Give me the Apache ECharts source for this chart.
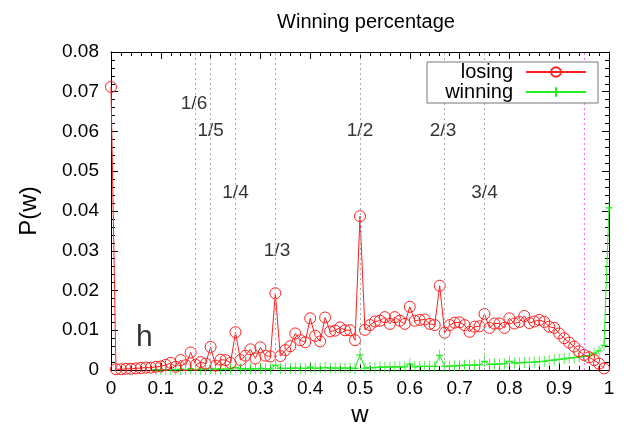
<!DOCTYPE html>
<html><head><meta charset="utf-8">
<script src="https://cdn.jsdelivr.net/npm/echarts@6/dist/echarts.min.js"></script>
<style>html,body{margin:0;padding:0;background:#fff}#c{width:637px;height:434px}</style>
</head><body><div id="c"></div>
<script>
// bin positions w = 0.00 ... 1.00
const wBins = Array.from({length: 101}, (_, i) => i / 100);
const losing = [
0.0712,0.0002,0.0002,0.0003,0.0003,0.0004,0.0005,0.0006,0.0006,0.0008,
0.0009,0.0013,0.0018,0.0008,0.0025,0.0012,0.0044,0.0013,0.0020,0.0016,
0.0058,0.0011,0.0026,0.0025,0.0018,0.0095,0.0025,0.0036,0.0052,0.0029,
0.0057,0.0036,0.0034,0.0193,0.0035,0.0050,0.0060,0.0092,0.0075,0.0070,
0.0130,0.0086,0.0072,0.0132,0.0097,0.0099,0.0107,0.0100,0.0100,0.0075,
0.0387,0.0101,0.0113,0.0122,0.0124,0.0133,0.0116,0.0133,0.0124,0.0116,
0.0159,0.0124,0.0126,0.0127,0.0116,0.0113,0.0212,0.0094,0.0113,0.0119,
0.0120,0.0113,0.0096,0.0109,0.0110,0.0141,0.0106,0.0117,0.0117,0.0106,
0.0130,0.0117,0.0121,0.0136,0.0118,0.0122,0.0126,0.0121,0.0109,0.0106,
0.0092,0.0080,0.0069,0.0059,0.0047,0.0038,0.0032,0.0025,0.0016,0.0004,
null];
const winning = [
null,null,null,null,null,null,null,null,null,0.0001,
0.0001,0.0001,0.0001,0.0001,0.0002,0.0001,0.0003,0.0001,0.0002,0.0002,
0.0004,0.0002,0.0002,0.0002,0.0002,0.0006,0.0003,0.0003,0.0003,0.0003,
0.0004,0.0003,0.0003,0.0012,0.0004,0.0004,0.0004,0.0005,0.0004,0.0004,
0.0007,0.0004,0.0005,0.0006,0.0005,0.0005,0.0005,0.0005,0.0005,0.0004,
0.0038,0.0005,0.0006,0.0006,0.0007,0.0007,0.0007,0.0008,0.0008,0.0008,
0.0015,0.0008,0.0009,0.0009,0.0009,0.0009,0.0037,0.0009,0.0010,0.0010,
0.0011,0.0012,0.0012,0.0012,0.0013,0.0022,0.0014,0.0015,0.0015,0.0016,
0.0022,0.0017,0.0018,0.0019,0.0019,0.0020,0.0021,0.0022,0.0024,0.0025,
0.0027,0.0028,0.0030,0.0031,0.0033,0.0034,0.0036,0.0042,0.0048,0.0062,
0.0408];
// fraction annotations
const fracLabels = ['1/6','1/5','1/4','1/3','1/2','2/3','3/4'];
const fracValues = [1/6, 1/5, 1/4, 1/3, 1/2, 2/3, 3/4];
const fracLabelY = [0.0669, 0.0601, 0.0445, 0.0300, 0.0601, 0.0601, 0.0445];
const magentaLine = 0.952;

const FONT = 'Liberation Sans';
const chart = echarts.init(document.getElementById('c'));
const pairs = arr => wBins.map((w, i) => [w, arr[i]]);

function mkAxis(extra) {
  return Object.assign({
    axisLine: {show: true, onZero: false, lineStyle: {color: '#000', width: 1}},
    axisTick: {show: true, inside: true, length: 7, lineStyle: {color: '#000', width: 1}},
    minorTick: {show: true, splitNumber: 5, length: 4, lineStyle: {color: '#000', width: 1}},
    splitLine: {show: false}
  }, extra);
}
const plus = 'path://M0,-5 L0,5 M-3,0 L3,0';

chart.setOption({
  animation: false,
  backgroundColor: '#fff',
  title: {
    text: 'Winning percentage', left: 361, top: 7, textAlign: 'center',
    textStyle: {fontFamily: FONT, fontSize: 20, fontWeight: 'normal', color: '#000'}
  },
  grid: {left: 111, right: 28, top: 52, bottom: 64},
  legend: {
    data: ['losing', 'winning'], orient: 'vertical', align: 'right',
    left: 427, top: 62, itemWidth: 60, itemHeight: 12, itemGap: 0,
    padding: [0, 11, 1, 4],
    borderColor: '#777', borderWidth: 1, backgroundColor: '#fff',
    textStyle: {fontFamily: FONT, fontSize: 20, lineHeight: 20, color: '#000',
      width: 82, align: 'right', padding: [0, 8, 0, 0]},
    z: 10
  },
  xAxis: [
    mkAxis({type: 'value', min: 0, max: 1, interval: 0.1, position: 'bottom',
      name: 'w', nameLocation: 'middle', nameGap: 28,
      nameTextStyle: {fontFamily: FONT, fontSize: 24, color: '#000'},
      axisLabel: {fontFamily: FONT, fontSize: 19, color: '#000', margin: 9,
        formatter: v => (v === 0 ? '0' : v === 1 ? '1' : v.toFixed(1))}}),
    mkAxis({type: 'value', min: 0, max: 1, interval: 0.1, position: 'top',
      axisLabel: {show: false}})
  ],
  yAxis: [
    mkAxis({type: 'value', min: 0, max: 0.08, interval: 0.01, position: 'left',
      name: 'P(w)', nameLocation: 'middle', nameGap: 70, nameRotate: 90,
      nameTextStyle: {fontFamily: FONT, fontSize: 24, color: '#000'},
      axisLabel: {fontFamily: FONT, fontSize: 19, color: '#000', margin: 12,
        formatter: v => (v === 0 ? '0' : v.toFixed(2))}}),
    mkAxis({type: 'value', min: 0, max: 0.08, interval: 0.01, position: 'right',
      axisLabel: {show: false}})
  ],
  series: [
    {
      name: 'guides', type: 'line', data: [], silent: true, z: 1,
      markLine: {
        symbol: 'none', silent: true, label: {show: false},
        data: fracValues.map(v => ({xAxis: v, lineStyle: {color: '#aaa', type: [2, 3], width: 1}}))
          .concat([{xAxis: magentaLine, lineStyle: {color: '#ff66ff', type: [2, 3], width: 1}}])
      }
    },
    {
      name: 'losing', type: 'line', data: pairs(losing), z: 3,
      symbol: 'circle', symbolSize: 11, showAllSymbol: true, connectNulls: false,
      lineStyle: {color: '#ff2020', width: 1},
      itemStyle: {color: 'rgba(255,255,255,0)', borderColor: '#ff2020', borderWidth: 1}
    },
    {
      name: 'winning', type: 'line', data: pairs(winning), z: 2,
      symbol: plus, symbolSize: [7, 11], showAllSymbol: true,
      lineStyle: {color: '#22ee22', width: 1},
      itemStyle: {color: '#22ee22', borderColor: '#22ee22', borderWidth: 1}
    },
    {
      name: 'labels', type: 'scatter', symbolSize: 0, silent: true, z: 4,
      data: fracValues.map((v, i) => ({value: [v, fracLabelY[i]], name: fracLabels[i]}))
        .concat([{value: [0.067, 0.0080], name: 'h', label: {fontSize: 30}}]),
      label: {show: true, position: 'inside', formatter: p => p.name,
        fontFamily: FONT, fontSize: 19, color: '#000'}
    }
  ]
});
</script></body></html>
